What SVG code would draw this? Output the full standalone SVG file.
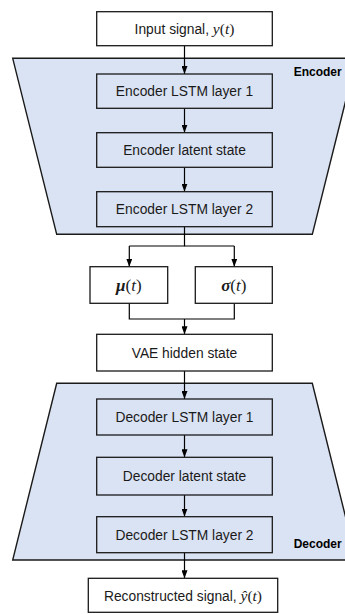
<svg xmlns="http://www.w3.org/2000/svg" width="345" height="614" viewBox="0 0 345 614">
  <defs>
    <marker id="arrow" viewBox="0 0 8 6" refX="8" refY="3" markerWidth="8" markerHeight="6" markerUnits="userSpaceOnUse" orient="auto">
      <path d="M0,0 L8,3 L0,6 Z" fill="#000"/>
    </marker>
    <style>
      .stage { fill: #dae3f3; stroke: #1a1a1a; stroke-width: 1.4; }
      .box { stroke: #1a1a1a; stroke-width: 1.3; }
      .plain { fill: #ffffff; }
      .inner { fill: #dae3f3; }
      .lbl { font-family: "Liberation Sans", Arial, sans-serif; font-size: 13.8px; fill: #1a1a1a; text-anchor: middle; }
      .math { font-family: "Liberation Serif", "Times New Roman", serif; font-style: italic; font-size: 15.5px; }
      .paren { font-family: "Liberation Serif", "Times New Roman", serif; font-style: normal; font-size: 15.5px; }
      .stagelbl { font-family: "Liberation Sans", Arial, sans-serif; font-size: 12px; font-weight: bold; fill: #000; text-anchor: end; }
      .wire { fill: none; stroke: #000; stroke-width: 1.2; }
    </style>
  </defs>

  <!-- encoder / decoder funnels -->
  <g id="encoder">
    <polygon class="stage" points="12.7,58.3 356.3,58.3 312.3,234.3 56.7,234.3"/>
    <text class="stagelbl" x="341.7" y="75.7">Encoder</text>
  </g>
  <g id="decoder">
    <polygon class="stage" points="56.7,383.3 312.3,383.3 356.3,560 12.7,560"/>
    <text class="stagelbl" x="341.7" y="548">Decoder</text>
  </g>

  <!-- connectors -->
  <g id="connectors">
    <line class="wire" x1="184.5" y1="45.7" x2="184.5" y2="74" marker-end="url(#arrow)"/>
    <line class="wire" x1="184.5" y1="108.3" x2="184.5" y2="132.7" marker-end="url(#arrow)"/>
    <line class="wire" x1="184.5" y1="167.3" x2="184.5" y2="191.7" marker-end="url(#arrow)"/>
    <polyline class="wire" points="184.5,226.7 184.5,246 129.3,246"/>
    <polyline class="wire" points="184.5,246 234.3,246"/>
    <line class="wire" x1="129.3" y1="246" x2="129.3" y2="266.7" marker-end="url(#arrow)"/>
    <line class="wire" x1="234.3" y1="246" x2="234.3" y2="266.7" marker-end="url(#arrow)"/>
    <polyline class="wire" points="129.3,303.3 129.3,319 234.3,319 234.3,303.3"/>
    <line class="wire" x1="184.5" y1="319" x2="184.5" y2="334.3" marker-end="url(#arrow)"/>
    <line class="wire" x1="184.5" y1="371" x2="184.5" y2="399" marker-end="url(#arrow)"/>
    <line class="wire" x1="184.5" y1="435" x2="184.5" y2="457.3" marker-end="url(#arrow)"/>
    <line class="wire" x1="184.5" y1="495" x2="184.5" y2="516.7" marker-end="url(#arrow)"/>
    <line class="wire" x1="184.5" y1="552.7" x2="184.5" y2="578.3" marker-end="url(#arrow)"/>
  </g>

  <!-- nodes -->
  <g id="input">
    <rect class="box plain" x="96.7" y="11.7" width="175.6" height="34"/>
    <text class="lbl" x="184.5" y="33.5">Input signal, <tspan class="math">y</tspan><tspan class="paren">(</tspan><tspan class="math">t</tspan><tspan class="paren">)</tspan></text>
  </g>
  <g id="enc-lstm1">
    <rect class="box inner" x="96.7" y="74" width="175.6" height="34.3"/>
    <text class="lbl" x="184.5" y="96">Encoder LSTM layer 1</text>
  </g>
  <g id="enc-latent">
    <rect class="box inner" x="96.7" y="132.7" width="175.6" height="34.6"/>
    <text class="lbl" x="184.5" y="155">Encoder latent state</text>
  </g>
  <g id="enc-lstm2">
    <rect class="box inner" x="96.7" y="191.7" width="175.6" height="35"/>
    <text class="lbl" x="184.5" y="214">Encoder LSTM layer 2</text>
  </g>
  <g id="mu">
    <rect class="box plain" x="90" y="266.7" width="77.7" height="36.6"/>
    <text class="lbl" x="128.8" y="291" style="font-size:17px"><tspan class="math" font-weight="bold" style="font-size:17px">μ</tspan><tspan class="paren" style="font-size:17px">(</tspan><tspan class="math" style="font-size:17px">t</tspan><tspan class="paren" style="font-size:17px">)</tspan></text>
  </g>
  <g id="sigma">
    <rect class="box plain" x="195.3" y="266.7" width="77" height="36.6"/>
    <text class="lbl" x="233.8" y="291" style="font-size:17px"><tspan class="math" font-weight="bold" style="font-size:17px">σ</tspan><tspan class="paren" style="font-size:17px">(</tspan><tspan class="math" style="font-size:17px">t</tspan><tspan class="paren" style="font-size:17px">)</tspan></text>
  </g>
  <g id="vae-hidden">
    <rect class="box plain" x="96.7" y="334.3" width="175.6" height="36.7"/>
    <text class="lbl" x="184.5" y="358">VAE hidden state</text>
  </g>
  <g id="dec-lstm1">
    <rect class="box inner" x="96.7" y="399" width="175.6" height="36"/>
    <text class="lbl" x="184.5" y="422">Decoder LSTM layer 1</text>
  </g>
  <g id="dec-latent">
    <rect class="box inner" x="96.7" y="457.3" width="175.6" height="37.7"/>
    <text class="lbl" x="184.5" y="481">Decoder latent state</text>
  </g>
  <g id="dec-lstm2">
    <rect class="box inner" x="96.7" y="516.7" width="175.6" height="36"/>
    <text class="lbl" x="184.5" y="539.5">Decoder LSTM layer 2</text>
  </g>
  <g id="output">
    <rect class="box plain" x="88.3" y="578.3" width="189.4" height="34"/>
    <text class="lbl" x="183" y="600.5">Reconstructed signal, <tspan class="math">ŷ</tspan><tspan class="paren">(</tspan><tspan class="math">t</tspan><tspan class="paren">)</tspan></text>
  </g>
</svg>
